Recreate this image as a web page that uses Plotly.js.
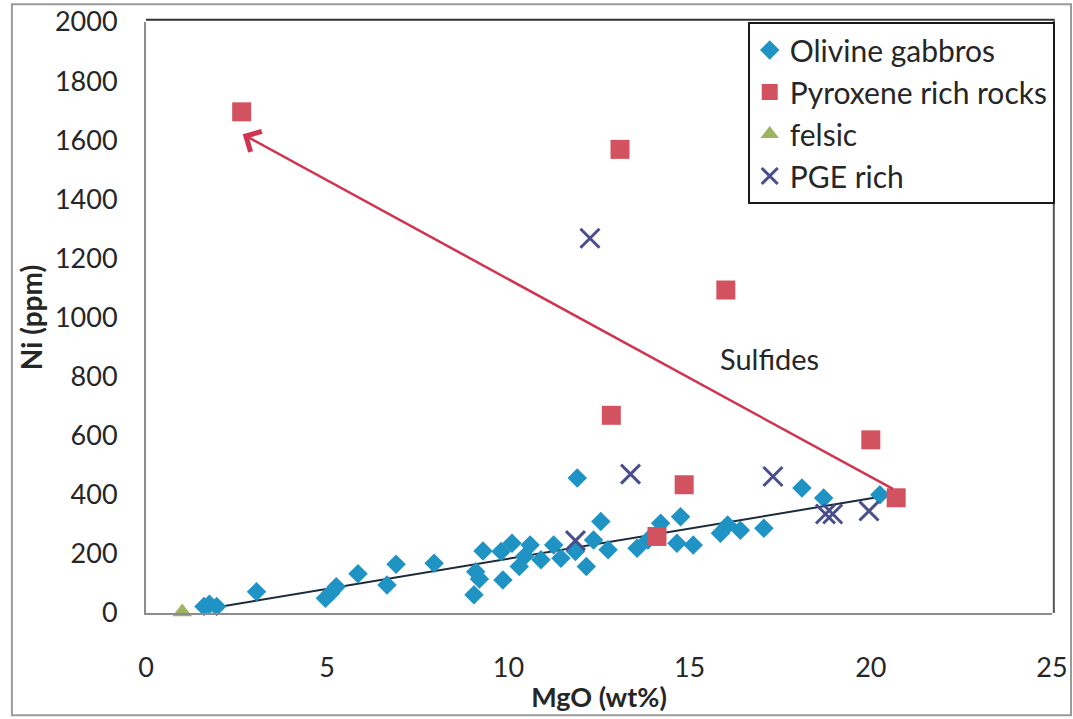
<!DOCTYPE html>
<html>
<head>
<meta charset="utf-8">
<script src="https://cdn.plot.ly/plotly-3.0.1.min.js"></script>
<style>
  html, body { margin: 0; padding: 0; background: #fff; }
  #chart { width: 1073px; height: 719px; }
</style>
</head>
<body>
<div id="chart"></div>
<script>
// Ni vs MgO for the rock groups
const olivineMgO = [1.6, 1.75, 1.95, 3.05, 4.95, 5.1, 5.25, 5.85, 6.65, 6.9, 7.95,
  9.05, 9.1, 9.2, 9.3, 9.8, 9.85, 10.1, 10.3, 10.45, 10.6, 10.9, 11.25, 11.45,
  11.85, 11.9, 12.15, 12.35, 12.55, 12.75, 13.55, 13.85, 14.2, 14.75, 14.65,
  15.1, 15.85, 16.05, 16.4, 17.05, 18.1, 18.7, 20.25];
const olivineNi = [22, 30, 22, 72, 50, 68, 89, 133, 95, 165, 168,
  62, 140, 115, 210, 208, 112, 236, 157, 192, 230, 180, 230, 185,
  208, 457, 157, 247, 310, 214, 219, 247, 304, 326, 236,
  230, 270, 298, 280, 287, 423, 389, 400];

const pyroxeneMgO = [2.64, 13.08, 16.0, 12.84, 14.85, 20.0, 20.7, 14.1];
const pyroxeneNi = [1696, 1569, 1093, 669, 434, 586, 390, 259];

const felsicMgO = [1.0];
const felsicNi = [3];

const pgeMgO = [12.25, 13.37, 17.3, 11.85, 18.75, 18.95, 19.95];
const pgeNi = [1268, 470, 462, 245, 335, 335, 345];

// fitted trend through the olivine gabbros
const trendMgO = [1.5, 20.3];
const trendNi = [10, 394];

// sulfide control arrow: tail and head
const arrowTail = [20.65, 417];
const arrowHead = [2.67, 1620];
const sulfideLabel = [17.2, 860];

const xTicks = [0, 5, 10, 15, 20, 25];
const yTicks = [0, 200, 400, 600, 800, 1000, 1200, 1400, 1600, 1800, 2000];

const FONT = 'Lato, "Open Sans", sans-serif';
const INK = '#262626';

const traces = [
  {
    x: trendMgO, y: trendNi, mode: 'lines', showlegend: false, hoverinfo: 'skip',
    line: { color: '#1c2b3a', width: 2 }
  },
  {
    name: 'Olivine gabbros', x: olivineMgO, y: olivineNi, mode: 'markers', type: 'scatter',
    cliponaxis: false,
    marker: { symbol: 'diamond', size: 15, color: '#1f93c4', line: { width: 0 } }
  },
  {
    name: 'Pyroxene rich rocks', x: pyroxeneMgO, y: pyroxeneNi, mode: 'markers', type: 'scatter',
    marker: { symbol: 'square', size: 19, color: '#d2535f', line: { width: 0 } }
  },
  {
    name: 'felsic', x: felsicMgO, y: felsicNi, mode: 'markers', type: 'scatter',
    cliponaxis: false,
    marker: { symbol: 'triangle-up', size: 17, color: '#9db45f', line: { width: 0 } }
  },
  {
    name: 'PGE rich', x: pgeMgO, y: pgeNi, mode: 'markers', type: 'scatter',
    marker: { symbol: 'x-thin', size: 19, color: '#4a4e8c', line: { width: 3, color: '#4a4e8c' } }
  }
];

const layout = {
  width: 1073, height: 719,
  margin: { l: 146, r: 21, t: 22, b: 106 },
  paper_bgcolor: '#ffffff', plot_bgcolor: '#ffffff',
  font: { family: FONT, size: 27, color: INK },
  showlegend: true,
  legend: {
    x: 1.003, y: 1.0, xanchor: 'right', yanchor: 'top',
    bgcolor: '#ffffff', bordercolor: '#1a1a1a', borderwidth: 2,
    font: { family: FONT, size: 30, color: INK },
    itemwidth: 30
  },
  xaxis: {
    range: [0, 25], tickvals: xTicks, ticktext: xTicks.map(String),
    showgrid: false, zeroline: false, showline: true, linecolor: '#8c8c8c', linewidth: 2,
    ticks: '', ticklabelstandoff: 30,
    tickfont: { family: FONT, size: 27, color: INK },
    title: { text: '<b>MgO (wt%)</b>', font: { family: FONT, size: 27, color: INK }, standoff: 6 }
  },
  yaxis: {
    range: [0, 2000], tickvals: yTicks, ticktext: yTicks.map(String),
    showgrid: false, zeroline: false, showline: true, linecolor: '#8c8c8c', linewidth: 2,
    ticks: '', ticklabelstandoff: 21,
    tickfont: { family: FONT, size: 27, color: INK },
    title: { text: '<b>Ni (ppm)</b>', font: { family: FONT, size: 28, color: INK }, standoff: 4 }
  },
  shapes: [
    // top and right edges of the plot frame
    { type: 'line', xref: 'paper', yref: 'paper', x0: 0, x1: 1.003, y0: 1.004, y1: 1.004,
      line: { color: '#333333', width: 2 } },
    { type: 'line', xref: 'paper', yref: 'paper', x0: 1.002, x1: 1.002, y0: 0, y1: 1.004,
      line: { color: '#555555', width: 2 } },
    // outer border of the figure
    { type: 'rect', xref: 'paper', yref: 'paper', x0: -0.148, x1: 1.021, y0: -0.173, y1: 1.03,
      line: { color: '#9a9a9a', width: 2 } }
  ],
  annotations: [
    {
      x: arrowHead[0], y: arrowHead[1], ax: arrowTail[0], ay: arrowTail[1],
      xref: 'x', yref: 'y', axref: 'x', ayref: 'y',
      showarrow: true, arrowhead: 4, arrowsize: 1.8, arrowwidth: 2.5, arrowcolor: '#d1344f', text: ''
    },
    {
      x: sulfideLabel[0], y: sulfideLabel[1], xref: 'x', yref: 'y', showarrow: false,
      text: 'Sulfides', font: { family: FONT, size: 29, color: INK }
    }
  ]
};

Plotly.newPlot('chart', traces, layout, { displayModeBar: false, staticPlot: true });
</script>
</body>
</html>
